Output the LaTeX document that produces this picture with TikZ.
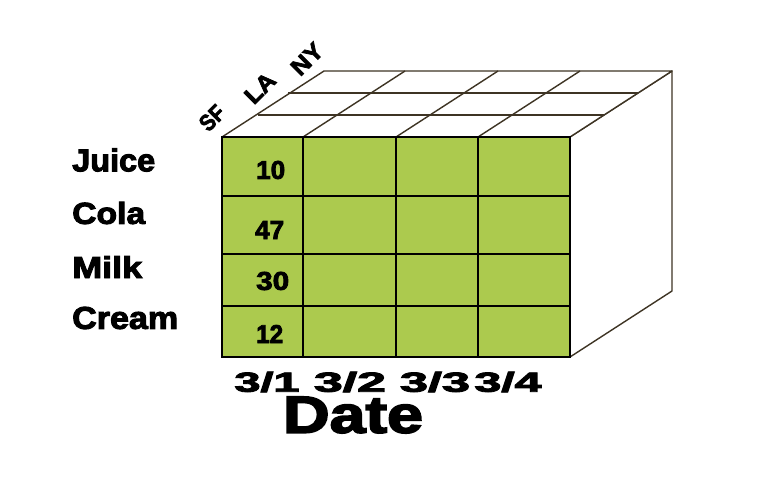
\documentclass[tikz,border=0pt]{standalone}
\usepackage{fontspec}
\usepackage{graphicx}
\newfontfamily\impf{Liberation Sans}[BoldFeatures={FakeBold=3}]
\newcommand\impt[3]{\resizebox{#1pt}{#2pt}{\impf\bfseries #3}}
\definecolor{cubegreen}{RGB}{172,202,78}
\definecolor{edgebrown}{RGB}{62,52,36}
\tikzset{
  lbl/.style={inner sep=0pt, text=black},
  topline/.style={draw=edgebrown, line width=1.4pt, line join=round},
  gridline/.style={draw=black, line width=1.8pt},
}
\begin{document}
\begin{tikzpicture}[x=1pt,y=-1pt]
\useasboundingbox (0,0) rectangle (776,477);
% corners
\coordinate (FTL) at (222,137);
\coordinate (FTR) at (570,137);
\coordinate (FBL) at (222,357);
\coordinate (FBR) at (570,357);
\coordinate (BTL) at (324,71);
\coordinate (BTR) at (672,71);
\coordinate (BBR) at (672,291);
% right side face
\draw[topline, fill=white] (FTR) -- (BTR) -- (BBR) -- (FBR) -- cycle;
% top face
\draw[topline, fill=white] (FTL) -- (BTL) -- (BTR) -- (FTR) -- cycle;
\draw[topline] (258,115) -- (604,115);
\draw[topline] (288,93) -- (638,93);
\foreach \x in {303,396,478}{
  \draw[topline] (\x,137) -- ({\x+102},71);
}
% front face
\fill[cubegreen] (FTL) rectangle (FBR);
\foreach \x in {303,396,478}{
  \draw[gridline] (\x,137) -- (\x,357);
}
\foreach \y in {196,254,306}{
  \draw[gridline] (222,\y) -- (570,\y);
}
\draw[gridline, line join=miter] (FTL) rectangle (FBR);
% values
\node[lbl, anchor=west] (v10) at (256,170) {\impt{29}{18}{10}};
\node[lbl, anchor=west] (v47) at (255,230) {\impt{29}{18}{47}};
\node[lbl, anchor=west] (v30) at (256,281) {\impt{33}{18}{30}};
\node[lbl, anchor=west] (v12) at (256,334) {\impt{27}{18}{12}};
% row labels
\node[lbl, anchor=west] (juice) at (72,160) {\impt{83}{23}{Juice}};
\node[lbl, anchor=west] (cola) at (72,213) {\impt{73}{22}{Cola}};
\node[lbl, anchor=west] (milk) at (72,267) {\impt{70}{22}{Milk}};
\node[lbl, anchor=west] (cream) at (72,318) {\impt{106}{22}{Cream}};
% city labels
\node[lbl, rotate=45] (sf) at (212,118) {\impt{26}{16}{SF}};
\node[lbl, rotate=45] (la) at (260,88) {\impt{33}{16}{LA}};
\node[lbl, rotate=45] (ny) at (307,59) {\impt{35}{16}{NY}};
% dates
\node[lbl] (d1) at (267,382) {\impt{65}{20}{3/1}};
\node[lbl] (d2) at (350,382) {\impt{72}{20}{3/2}};
\node[lbl] (d3) at (435,382) {\impt{70}{20}{3/3}};
\node[lbl] (d4) at (508,382) {\impt{67}{20}{3/4}};
\node[lbl] (date) at (353,415) {\impt{140}{36}{Date}};
\end{tikzpicture}
\end{document}
